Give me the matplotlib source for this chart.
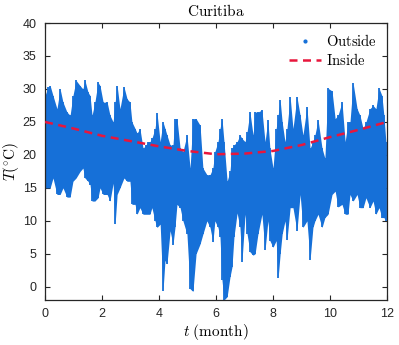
import matplotlib
matplotlib.use("Agg")
import matplotlib.pyplot as plt
from matplotlib.lines import Line2D
import numpy as np

plt.rcParams['mathtext.fontset'] = 'cm'
plt.rcParams['font.family'] = ['Liberation Sans', 'DejaVu Sans']

# Outside temperature: local upper/lower envelopes
out_t = [0.00, 0.11, 0.18, 0.28, 0.42, 0.53, 0.63, 0.77, 0.88, 0.98, 1.09, 1.23, 1.33, 1.40,
         1.51, 1.58, 1.65, 1.75, 1.86, 1.93, 2.04, 2.18, 2.28, 2.39, 2.46, 2.53, 2.63, 2.77,
         2.88, 2.98, 3.05, 3.16, 3.23, 3.33, 3.44, 3.54, 3.61, 3.68, 3.75, 3.86, 3.93, 4.04,
         4.14, 4.21, 4.28, 4.39, 4.49, 4.56, 4.63, 4.74, 4.84, 4.98, 5.09, 5.19, 5.30, 5.44,
         5.54, 5.68, 5.79, 5.89, 5.96, 6.07, 6.14, 6.21, 6.28, 6.39, 6.49, 6.56, 6.63, 6.74,
         6.84, 6.91, 7.02, 7.09, 7.19, 7.30, 7.37, 7.47, 7.61, 7.72, 7.82, 7.89, 8.00, 8.11,
         8.18, 8.25, 8.32, 8.42, 8.49, 8.60, 8.70, 8.84, 8.95, 9.05, 9.19, 9.30, 9.40, 9.47,
         9.58, 9.72, 9.82, 9.93, 10.07, 10.18, 10.28, 10.42, 10.53, 10.63, 10.70, 10.81,
         10.95, 11.05, 11.16, 11.26, 11.40, 11.51, 11.61, 11.72, 11.82, 11.89, 11.96]
out_hi = [29, 30.3, 30.5, 29, 27, 30, 28, 26.5, 26, 29, 31.3, 30.5, 30, 31.3,
          29.5, 29, 26, 28, 31, 30.5, 28, 28, 26, 25, 28, 30.5, 27, 30.3,
          28.5, 28, 25, 24, 23.3, 24, 21, 21.5, 22, 22, 22.5, 24, 26.3, 22,
          25, 24, 23, 21.5, 21.5, 25.5, 25.5, 21, 20.5, 23, 18, 25.5, 25.5, 24.5,
          18, 17, 17, 18, 20.5, 22, 24, 25.5, 22, 16, 17.5, 21, 21.5, 22,
          23, 22.5, 22, 23.5, 26.5, 23, 26.5, 26.5, 26.8, 22, 25.3, 21, 18, 24,
          26, 28.3, 25, 22, 24, 28.8, 24, 28.8, 26, 23, 27.3, 21, 22, 23,
          25.3, 21, 19.5, 30.1, 29.7, 25.5, 26, 28, 22, 25, 25, 30.9,
          27, 26, 24, 25, 27, 27.5, 27, 30.1, 29, 26, 22]
out_lo = [15, 15, 15, 16.5, 14, 14, 15, 13.6, 13.6, 16, 16.5, 17.5, 18, 16.5,
          16, 15.5, 13, 13, 13.5, 15, 14, 14, 13, 15.7, 9.5, 14, 15, 16.5,
          16, 16, 12.5, 12.5, 11, 12, 11, 11, 11, 11, 12, 10, 9, 9.5,
          -0.6, 4, 3.5, 8.5, 6.4, 9, 12.5, 12, 10, 8, -0.3, -0.7, 5, 6.5,
          8, 10, 9, 6.8, 10, 9, 7.5, 1, -2, -1.5, 1.5, 3, 7.6, 11.2,
          9, 3.8, 11, 8, 5.3, 4.8, 5, 8, 11, 5.6, 10, 7, 6, 7,
          1.4, 5, 8, 10, 7.1, 12, 12, 8.5, 14, 9, 10, 4.1, 9, 10,
          11, 9, 10.5, 11, 14, 14.5, 12.1, 12.5, 11, 11, 14, 13,
          14, 12, 12, 13.5, 12, 13, 11, 12, 10.5, 10.5, 10]

# Inside temperature
in_t = [0, 1, 2, 3, 4, 5, 6, 7, 8, 9, 10, 11, 12]
in_T = [25.0, 24.0, 22.9, 22.1, 21.3, 20.6, 20.1, 20.2, 20.6, 21.5, 22.7, 23.8, 25.0]

blue = '#1670d8'
red = '#e8163c'

fig = plt.figure(figsize=(3.99, 3.45), dpi=100)
ax = fig.add_axes([0.1128, 0.1304, 0.8572, 0.8029])

t = np.array(out_t)
hi = np.array(out_hi)
lo = np.array(out_lo)
ax.fill_between(t, lo, hi, color=blue, lw=0, zorder=2)
ax.vlines(t, lo, hi, color=blue, lw=1.3, zorder=2)

ax.plot(in_t, in_T, color=red, ls=(0, (3.2, 2.2)), lw=1.8, zorder=3)

ax.set_xlim(0, 12)
ax.set_ylim(-2, 40)
ax.set_xticks(range(0, 13, 2))
ax.set_yticks(range(0, 41, 5))
ax.tick_params(direction='in', top=True, right=True, labelsize=9,
               length=3.5, width=0.8, colors='#262626', pad=6)
for s in ax.spines.values():
    s.set_linewidth(0.9)
    s.set_color('#262626')

ax.set_title(r'$\mathrm{Curitiba}$', fontsize=11, pad=5)
ax.set_xlabel(r'$t\ \mathrm{(month)}$', fontsize=11, labelpad=1)
ax.set_ylabel(r'$T(^{\circ}\mathrm{C})$', fontsize=11, labelpad=1)

handles = [Line2D([], [], color=blue, marker='.', ls='none', markersize=4),
           Line2D([], [], color=red, ls=(0, (3.2, 2.2)), lw=1.8)]
ax.legend(handles, [r'$\mathrm{Outside}$', r'$\mathrm{Inside}$'], loc='upper right',
          frameon=False, fontsize=10.5, handlelength=2.2, handletextpad=0.3,
          borderaxespad=0.3, labelspacing=0.2)

fig.savefig('out.png', dpi=100)
